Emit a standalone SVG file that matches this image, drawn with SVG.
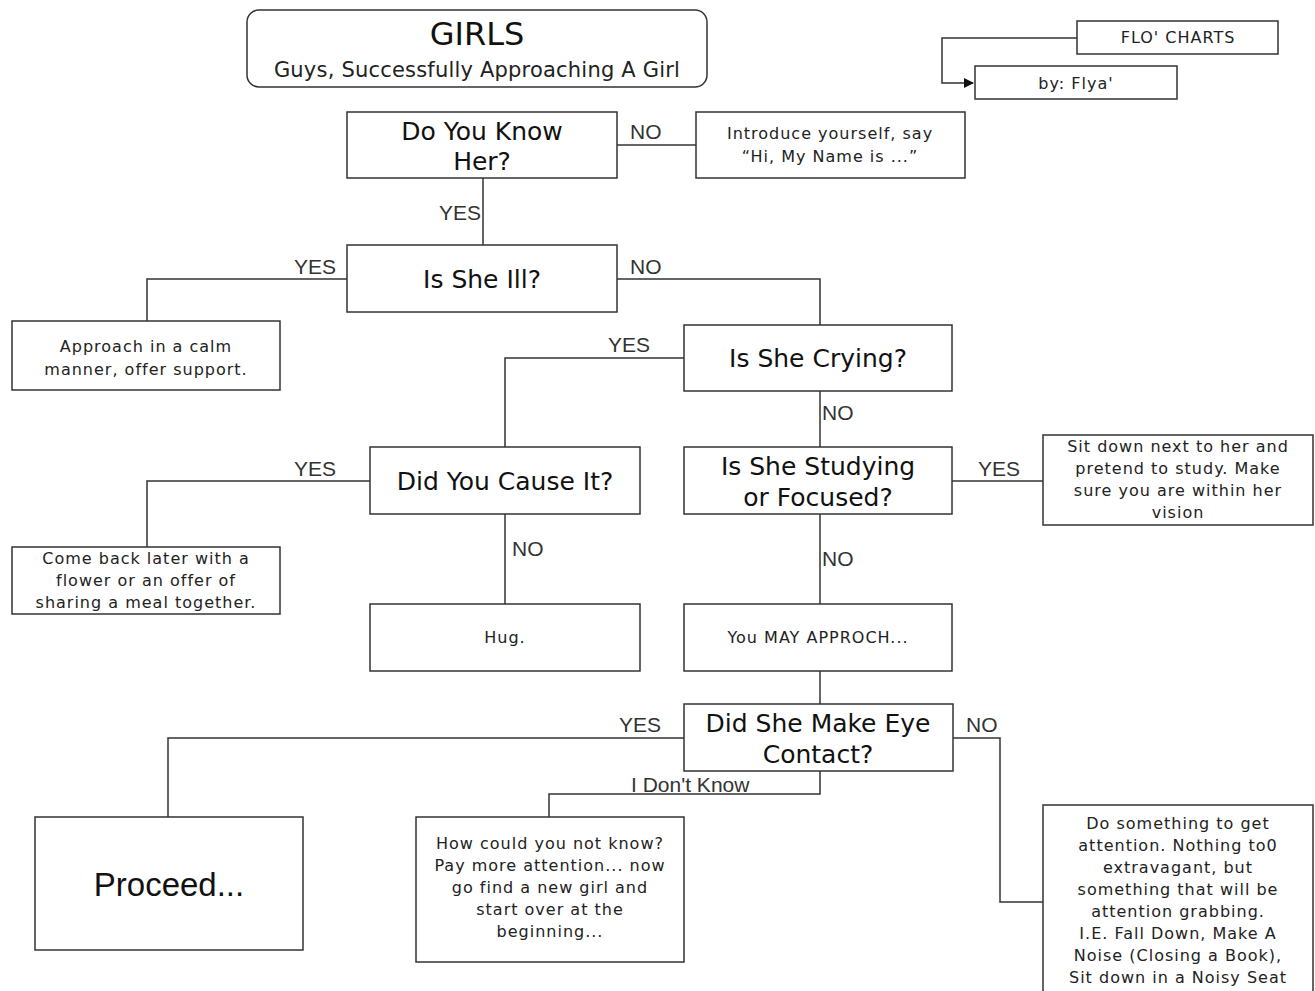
<svg xmlns="http://www.w3.org/2000/svg" width="1315" height="991" viewBox="0 0 1315 991">
<defs>
<style>
.box{fill:#fff;stroke:#333;stroke-width:1.5}
.q{font-family:"DejaVu Sans",Verdana,sans-serif;font-size:25px;fill:#111;text-anchor:middle}
.b{font-family:"DejaVu Sans",Verdana,sans-serif;font-size:16px;letter-spacing:1px;fill:#222;text-anchor:middle}
.lbl{font-family:"Liberation Sans",Arial,sans-serif;font-size:21px;fill:#333}
.c{fill:none;stroke:#333;stroke-width:1.5}
</style>
<marker id="arr" markerWidth="10" markerHeight="10" refX="9" refY="5" orient="auto" markerUnits="userSpaceOnUse">
<path d="M0,0 L10,5 L0,10 z" fill="#111"/>
</marker>
</defs>
<rect width="1315" height="991" fill="#fff"/>

<g id="connectors">
<path class="c" d="M1077,38 H942 V83 H973" marker-end="url(#arr)"/>
<path class="c" d="M617,145 H696"/>
<path class="c" d="M483,178 V245"/>
<path class="c" d="M347,279 H147 V321"/>
<path class="c" d="M617,279 H820 V325"/>
<path class="c" d="M684,358 H505 V447"/>
<path class="c" d="M820,391 V447"/>
<path class="c" d="M370,481 H147 V547"/>
<path class="c" d="M505,514 V604"/>
<path class="c" d="M952,481 H1043"/>
<path class="c" d="M820,514 V604"/>
<path class="c" d="M820,671 V704"/>
<path class="c" d="M684,738 H168 V817"/>
<path class="c" d="M953,738 H1000 V902 H1043"/>
<path class="c" d="M820,771 V794 H549 V817"/>
<text class="lbl" x="630" y="139">NO</text>
<text class="lbl" x="481" y="220" text-anchor="end">YES</text>
<text class="lbl" x="294" y="274">YES</text>
<text class="lbl" x="630" y="274">NO</text>
<text class="lbl" x="608" y="352">YES</text>
<text class="lbl" x="822" y="420">NO</text>
<text class="lbl" x="294" y="476">YES</text>
<text class="lbl" x="512" y="556">NO</text>
<text class="lbl" x="978" y="476">YES</text>
<text class="lbl" x="822" y="566">NO</text>
<text class="lbl" x="619" y="732">YES</text>
<text class="lbl" x="966" y="732">NO</text>
<text class="lbl" x="631" y="792">I Don't Know</text>
</g>

<g id="title">
<rect class="box" x="247" y="10" width="460" height="77" rx="12"/>
<text x="477" y="45" font-family="DejaVu Sans,Verdana,sans-serif" font-size="32" fill="#111" text-anchor="middle">GIRLS</text>
<text x="477" y="77" font-family="DejaVu Sans,Verdana,sans-serif" font-size="21" fill="#222" text-anchor="middle" letter-spacing="0.2">Guys, Successfully Approaching A Girl</text>
</g>

<g id="flo-charts">
<rect class="box" x="1077" y="21" width="201" height="33"/>
<text class="b" x="1178" y="43" font-size="15">FLO' CHARTS</text>
</g>
<g id="by-flya">
<rect class="box" x="975" y="66" width="202" height="33"/>
<text class="b" x="1076" y="89" font-size="15">by: Flya'</text>
</g>

<g id="know-her">
<rect class="box" x="347" y="112" width="270" height="66"/>
<text class="q" x="482" y="140">Do You Know</text>
<text class="q" x="482" y="170">Her?</text>
</g>
<g id="introduce">
<rect class="box" x="696" y="112" width="269" height="66"/>
<text class="b" x="830" y="139">Introduce yourself, say</text>
<text class="b" x="830" y="162">“Hi, My Name is ...”</text>
</g>

<g id="ill">
<rect class="box" x="347" y="245" width="270" height="67"/>
<text class="q" x="482" y="288">Is She Ill?</text>
</g>
<g id="approach">
<rect class="box" x="12" y="321" width="268" height="69"/>
<text class="b" x="146" y="352">Approach in a calm</text>
<text class="b" x="146" y="375">manner, offer support.</text>
</g>

<g id="crying">
<rect class="box" x="684" y="325" width="268" height="66"/>
<text class="q" x="818" y="367">Is She Crying?</text>
</g>

<g id="cause">
<rect class="box" x="370" y="447" width="270" height="67"/>
<text class="q" x="505" y="490">Did You Cause It?</text>
</g>
<g id="come-back">
<rect class="box" x="12" y="547" width="268" height="67"/>
<text class="b" x="146" y="564">Come back later with a</text>
<text class="b" x="146" y="586">flower or an offer of</text>
<text class="b" x="146" y="608">sharing a meal together.</text>
</g>
<g id="hug">
<rect class="box" x="370" y="604" width="270" height="67"/>
<text class="b" x="505" y="643">Hug.</text>
</g>

<g id="studying">
<rect class="box" x="684" y="447" width="268" height="67"/>
<text class="q" x="818" y="475">Is She Studying</text>
<text class="q" x="818" y="506">or Focused?</text>
</g>
<g id="sit-down">
<rect class="box" x="1043" y="435" width="270" height="90"/>
<text class="b" x="1178" y="452">Sit down next to her and</text>
<text class="b" x="1178" y="474">pretend to study. Make</text>
<text class="b" x="1178" y="496">sure you are within her</text>
<text class="b" x="1178" y="518">vision</text>
</g>
<g id="may-approach">
<rect class="box" x="684" y="604" width="268" height="67"/>
<text class="b" x="818" y="643" font-size="15">You MAY APPROCH...</text>
</g>

<g id="eye-contact">
<rect class="box" x="684" y="704" width="269" height="67"/>
<text class="q" x="818" y="732">Did She Make Eye</text>
<text class="q" x="818" y="763">Contact?</text>
</g>
<g id="proceed">
<rect class="box" x="35" y="817" width="268" height="133"/>
<text x="169" y="896" font-family="Liberation Sans,Arial,sans-serif" font-size="33" fill="#111" text-anchor="middle">Proceed...</text>
</g>
<g id="dont-know">
<rect class="box" x="416" y="817" width="268" height="145"/>
<text class="b" x="550" y="849">How could you not know?</text>
<text class="b" x="550" y="871">Pay more attention... now</text>
<text class="b" x="550" y="893">go find a new girl and</text>
<text class="b" x="550" y="915">start over at the</text>
<text class="b" x="550" y="937">beginning...</text>
</g>
<g id="do-something">
<rect class="box" x="1043" y="805" width="270" height="195"/>
<text class="b" x="1178" y="829">Do something to get</text>
<text class="b" x="1178" y="851">attention. Nothing to0</text>
<text class="b" x="1178" y="873">extravagant, but</text>
<text class="b" x="1178" y="895">something that will be</text>
<text class="b" x="1178" y="917">attention grabbing.</text>
<text class="b" x="1178" y="939">I.E. Fall Down, Make A</text>
<text class="b" x="1178" y="961">Noise (Closing a Book),</text>
<text class="b" x="1178" y="983">Sit down in a Noisy Seat</text>
</g>
</svg>
